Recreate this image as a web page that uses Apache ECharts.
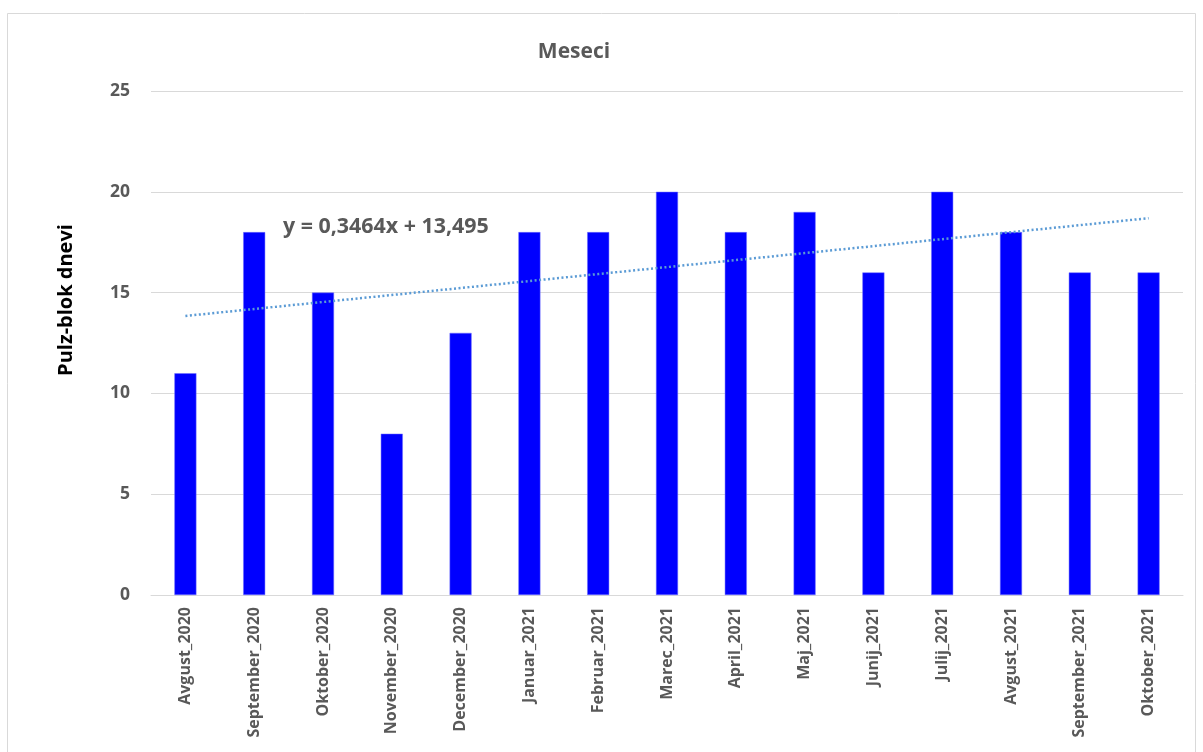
<!DOCTYPE html>
<html>
<head>
<meta charset="utf-8">
<script src="https://cdn.jsdelivr.net/npm/echarts@6/dist/echarts.min.js"></script>
<style>
  html, body { margin: 0; padding: 0; background: #fff; }
  #chart { width: 1203px; height: 752px; }
</style>
</head>
<body>
<div id="chart"></div>
<script>
// Monthly pulse-block day counts
const months = [
  'Avgust_2020', 'September_2020', 'Oktober_2020', 'November_2020', 'December_2020',
  'Januar_2021', 'Februar_2021', 'Marec_2021', 'April_2021', 'Maj_2021',
  'Junij_2021', 'Julij_2021', 'Avgust_2021', 'September_2021', 'Oktober_2021'
];
const days = [11, 18, 15, 8, 13, 18, 18, 20, 18, 19, 16, 20, 18, 16, 16];

// Linear trend line: y = slope * x + intercept (x = 1..n)
const trendSlope = 0.3464;
const trendIntercept = 13.495;
const trendLabel = 'y = 0,3464x + 13,495';
const trend = months.map((m, i) => +(trendSlope * (i + 1) + trendIntercept).toFixed(4));

const font = '"Open Sans", "Noto Sans", sans-serif';
const chart = echarts.init(document.getElementById('chart'));

chart.setOption({
  animation: false,
  backgroundColor: '#fff',
  title: {
    text: 'Meseci',
    left: 569,
    top: 37,
    textAlign: 'center',
    textStyle: { fontFamily: font, fontSize: 21, fontWeight: 'bold', color: '#595959' }
  },
  grid: { left: 151, right: 20, top: 91, bottom: 157, containLabel: false },
  xAxis: {
    type: 'category',
    data: months,
    boundaryGap: true,
    axisLine: { lineStyle: { color: '#d9d9d9', width: 1 } },
    axisTick: { show: false },
    axisLabel: {
      rotate: 90,
      interval: 0,
      margin: 12,
      fontFamily: font,
      fontSize: 16,
      fontWeight: 'bold',
      color: '#595959'
    }
  },
  yAxis: {
    type: 'value',
    min: 0,
    max: 25,
    interval: 5,
    axisLine: { show: false },
    axisTick: { show: false },
    axisLabel: {
      margin: 21,
      fontFamily: font,
      fontSize: 17.5,
      fontWeight: 'bold',
      color: '#595959'
    },
    splitLine: { lineStyle: { color: '#d9d9d9', width: 1 } }
  },
  series: [
    {
      type: 'bar',
      data: days,
      barWidth: 22,
      itemStyle: { color: '#0000ff', borderColor: '#6f6fff', borderWidth: 0.5 }
    },
    {
      type: 'line',
      data: trend,
      symbol: 'none',
      z: 5,
      lineStyle: { color: '#5b9bd5', width: 2.5, type: [2, 2.5] }
    }
  ],
  graphic: [
    {
      type: 'rect',
      shape: { x: 7.5, y: 13.5, width: 1188, height: 760 },
      style: { fill: 'none', stroke: '#d9d9d9', lineWidth: 1 },
      silent: true
    },
    {
      // y-axis title
      type: 'text',
      x: 66,
      y: 300,
      rotation: Math.PI / 2,
      style: {
        text: 'Pulz-blok dnevi',
        fontFamily: font,
        fontSize: 20,
        fontWeight: 'bold',
        fill: '#000',
        align: 'center',
        verticalAlign: 'middle'
      }
    },
    {
      // trend equation
      type: 'text',
      left: 283,
      top: 216,
      style: {
        text: trendLabel,
        fontFamily: font,
        fontSize: 21.4,
        fontWeight: 'bold',
        fill: '#595959'
      }
    }
  ]
});
</script>
</body>
</html>
